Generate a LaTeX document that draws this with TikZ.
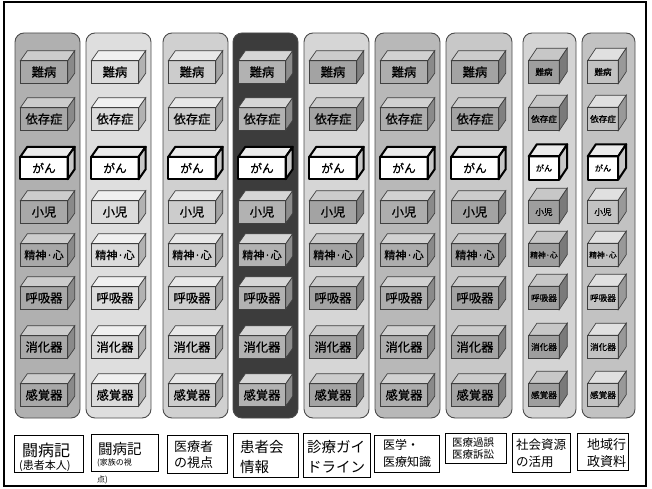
\documentclass[tikz,border=0pt]{standalone}
\usepackage{fontspec}
\setmainfont{Noto Sans CJK JP}
\newfontfamily\jpbox{Noto Sans CJK JP}[FakeBold=0.8]
\usetikzlibrary{calc}
\definecolor{cA}{HTML}{B0B0B0}
\definecolor{cB}{HTML}{DEDEDE}
\definecolor{cC}{HTML}{D0D0D0}
\definecolor{cD}{HTML}{3C3C3C}
\definecolor{cE}{HTML}{D6D6D6}
\definecolor{cF}{HTML}{B8B8B8}
\definecolor{cG}{HTML}{C8C8C8}
\definecolor{cH}{HTML}{D4D4D4}
\definecolor{cI}{HTML}{C2C2C2}
\tikzset{
  colbox/.style={draw=black!70, line width=0.9pt, rounded corners=9pt, inner sep=0pt},
  cubeL/.style={minimum width=47pt, minimum height=22pt, inner sep=0pt},
  cubeS/.style={minimum width=30pt, minimum height=23pt, inner sep=0pt},
  edge/.style={draw=black!75, line width=0.7pt},
  canceredge/.style={draw=black, line width=2pt, line join=round},
  labbox/.style={draw=black, line width=0.8pt, inner sep=0pt, fill=white},
  labtxt/.style={anchor=west, inner sep=0pt},
}
\newcommand\cubefaces[4]{%
  \draw[#4, fill=#2] (#1.north west) -- ++(\cdx,-\cdy) -- ($(#1.north east)+(\cdx,-\cdy)$) -- (#1.north east) -- cycle;
  \draw[#4, fill=#3] (#1.north east) -- ++(\cdx,-\cdy) -- ($(#1.south east)+(\cdx,-\cdy)$) -- (#1.south east) -- cycle;
  \draw[#4] (#1.north west) rectangle (#1.south east);
}
\newcommand\drawcol[8]{%
  \node[colbox, fill=#4, minimum width=#3pt, minimum height=385pt] (col#1) at ({#2+#3/2},225.5) {};
  \ifx L#8 \def\cdx{7}\def\cdy{10}\def\coff{29}\def\basefs{12.3}\else\def\cdx{8}\def\cdy{12}\def\coff{21}\def\basefs{8.6}\fi
  \foreach \r/\y/\t/\sc in {1/72/難病/1,2/119/依存症/1,3/168/がん/0.95,4/212/小児/1,5/255/精神·心/0.9,6/298/呼吸器/1,7/347/消化器/1,8/395/感覚器/1}{
    \pgfmathsetmacro\fsz{\basefs*\sc}
    \ifnum\r=3
      \node[cube#8, fill=white, font=\jpbox\fontsize{\fsz}{\fsz}\selectfont] (b#1-\r) at ({#2+\coff},\y) {\t};
      \cubefaces{b#1-\r}{white!92!black}{white!78!black}{canceredge}
    \else
      \node[cube#8, fill=#5, font=\jpbox\fontsize{\fsz}{\fsz}\selectfont] (b#1-\r) at ({#2+\coff},\y) {\t};
      \cubefaces{b#1-\r}{#6}{#7}{edge}
    \fi
  }
}
\begin{document}
\begin{tikzpicture}[x=1pt,y=-1pt]
\useasboundingbox (0,0) rectangle (652,489);
\draw[line width=2pt] (4,2) rectangle (646,486);
% columns
\drawcol{1}{15}{65}{cA}{black!34}{black!20}{black!46}{L}
\drawcol{2}{86}{65}{cB}{black!14}{black!6}{black!30}{L}
\drawcol{3}{163}{65}{cC}{black!20}{black!9}{black!36}{L}
\drawcol{4}{233}{65}{cD}{black!30}{black!16}{black!45}{L}
\drawcol{5}{304}{65}{cE}{black!36}{black!20}{black!50}{L}
\drawcol{6}{375}{65}{cF}{black!32}{black!18}{black!46}{L}
\drawcol{7}{446}{66}{cG}{black!36}{black!20}{black!50}{L}
\drawcol{8}{523}{53}{cH}{black!38}{black!22}{black!52}{S}
\drawcol{9}{582}{53}{cI}{black!24}{black!12}{black!40}{S}
% labels
\node[labbox, minimum width=69pt, minimum height=37pt] (l1) at (48.5,453.5) {};
\node[labtxt, font=\fontsize{16}{16}\selectfont] (t1a) at (22,450) {闘病記};
\node[labtxt, font=\fontsize{11}{11}\selectfont] (t1b) at (19,466) {(患者本人)};
\node[labbox, minimum width=67pt, minimum height=37pt] (l2) at (124.5,452.5) {};
\node[labtxt, font=\fontsize{14.5}{14.5}\selectfont] (t2a) at (98,449) {闘病記};
\node[labtxt, font=\fontsize{8}{8}\selectfont] (t2b) at (97,463) {(家族の視};
\node[labtxt, font=\fontsize{8}{8}\selectfont] (t2c) at (97,480) {点)};
\node[labbox, minimum width=60pt, minimum height=38pt] (l3) at (197,454) {};
\node[labtxt, font=\fontsize{13}{13}\selectfont] (t3a) at (174,447) {医療者};
\node[labtxt, font=\fontsize{13}{13}\selectfont] (t3b) at (174,463) {の視点};
\node[labbox, minimum width=65pt, minimum height=44pt] (l4) at (265.5,455) {};
\node[labtxt, font=\fontsize{14.5}{14.5}\selectfont] (t4a) at (240,447) {患者会};
\node[labtxt, font=\fontsize{14.5}{14.5}\selectfont] (t4b) at (240,467) {情報};
\node[labbox, minimum width=67pt, minimum height=44pt] (l5) at (336.5,455) {};
\node[labtxt, font=\fontsize{14.5}{14.5}\selectfont] (t5a) at (307,447) {診療ガイ};
\node[labtxt, font=\fontsize{14.5}{14.5}\selectfont] (t5b) at (307,467) {ドライン};
\node[labbox, minimum width=65pt, minimum height=37pt] (l6) at (406.5,453.5) {};
\node[labtxt, font=\fontsize{12}{12}\selectfont] (t6a) at (383,445) {医学・};
\node[labtxt, font=\fontsize{12}{12}\selectfont] (t6b) at (383,462) {医療知識};
\node[labbox, minimum width=61pt, minimum height=30pt] (l7) at (475.5,448) {};
\node[labtxt, font=\fontsize{10.5}{10.5}\selectfont] (t7a) at (452,443) {医療過誤};
\node[labtxt, font=\fontsize{10.5}{10.5}\selectfont] (t7b) at (452,455) {医療訴訟};
\node[labbox, minimum width=58pt, minimum height=39pt] (l8) at (541,452.5) {};
\node[labtxt, font=\fontsize{12.5}{12.5}\selectfont] (t8a) at (516,445) {社会資源};
\node[labtxt, font=\fontsize{12.5}{12.5}\selectfont] (t8b) at (516,462) {の活用};
\node[labbox, minimum width=51pt, minimum height=37pt] (l9) at (602.5,451.5) {};
\node[labtxt, font=\fontsize{13}{13}\selectfont] (t9a) at (587,445) {地域行};
\node[labtxt, font=\fontsize{13}{13}\selectfont] (t9b) at (587,462) {政資料};
\end{tikzpicture}
\end{document}
